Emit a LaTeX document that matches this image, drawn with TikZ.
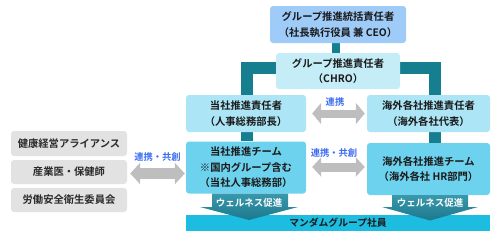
\documentclass[tikz,border=0pt]{standalone}
\usepackage{fontspec}
\setmainfont{Noto Sans CJK JP}[BoldFont={Noto Sans CJK JP Bold}]
\usetikzlibrary{arrows.meta}
\definecolor{topblue}{HTML}{9ECBF8}
\definecolor{chroc}{HTML}{C4EDF7}
\definecolor{respc}{HTML}{ACE5F5}
\definecolor{teamc}{HTML}{6DD2EE}
\definecolor{barc}{HTML}{1CBDE0}
\definecolor{tealc}{HTML}{157F8F}
\definecolor{grayb}{HTML}{E2E2E2}
\definecolor{graya}{HTML}{BEBEBE}
\definecolor{lblue}{HTML}{3B6CF2}
\definecolor{welltop}{HTML}{3A98AD}
\definecolor{wellbot}{HTML}{1B788D}
\definecolor{txt}{HTML}{1A1A1A}
\definecolor{gtxt}{HTML}{2B2B2B}
\pgfdeclarelayer{bg}
\pgfsetlayers{bg,main}
\tikzset{
  box/.style={rounded corners=3pt, inner sep=0pt, align=center, text=txt,
    font=\fontsize{10.3}{15.5}\selectfont\bfseries},
  graybox/.style={box, fill=grayb, text=gtxt, minimum width=116pt},
  tealline/.style={draw=tealc, line width=12pt},
  dblarrow/.style={draw=graya, line width=#1},
  lbl/.style={text=lblue, font=\fontsize{9.3}{10}\selectfont\bfseries, inner sep=0pt},
  welllbl/.style={text=white, font=\fontsize{9.5}{10}\selectfont\bfseries, inner sep=0pt},
  wellshape/.style={top color=welltop, bottom color=wellbot, draw=none},
}
\begin{document}
\begin{tikzpicture}[x=1pt,y=-1pt]
\useasboundingbox (0,0) rectangle (498,241);
% nodes
\node[box, fill=topblue, minimum width=136pt, minimum height=37pt] (top) at (338,24.5)
  {グループ推進統括責任者\\（社長執行役員 兼 CEO）};
\node[box, fill=chroc, minimum width=124pt, minimum height=36pt] (chro) at (338,71)
  {グループ推進責任者\\（CHRO）};
\node[box, fill=respc, minimum width=120pt, minimum height=37pt] (resp1) at (246,113.5)
  {当社推進責任者\\（人事総務部長）};
\node[box, fill=respc, minimum width=123pt, minimum height=37pt] (resp2) at (428.5,113.5)
  {海外各社推進責任者\\（海外各社代表）};
\node[box, fill=teamc, minimum width=120pt, minimum height=52pt] (team1) at (246,167.5)
  {当社推進チーム\\※国内グループ含む\\（当社人事総務部）};
\node[box, fill=teamc, minimum width=123pt, minimum height=52pt] (team2) at (428.5,169)
  {海外各社推進チーム\\（海外各社 HR部門）};
\node[box, fill=barc, rounded corners=0pt, minimum width=304pt, minimum height=16pt,
  font=\fontsize{9.8}{10}\selectfont\bfseries] (bar) at (338,223)
  {マンダムグループ社員};
\node[graybox, minimum height=25pt] (g1) at (69,143.5) {健康経営アライアンス};
\node[graybox, minimum height=24pt] (g2) at (69,172) {産業医・保健師};
\node[graybox, minimum height=24pt] (g3) at (69,200) {労働安全衛生委員会};
% teal connectors
\coordinate (bl) at (246.5,68);
\coordinate (br) at (434.5,68);
\begin{pgfonlayer}{bg}
\draw[draw=tealc, line width=8pt] (top.south) ++(-2,0) -- ([xshift=-2pt]chro.north);
\draw[tealline] ([xshift=0.5pt]resp1.north) -- (bl) -- (br) -- (br |- resp2.north);
\draw[tealline] ([xshift=0.5pt]resp1.south) -- ([xshift=0.5pt]team1.north);
\draw[tealline] (br |- resp2.south) -- (br |- team2.north);
\end{pgfonlayer}
% wellness arrows
\path[wellshape] ([xshift=3pt]team1.south) ++(-37,0) -- ++(76,0) |- (298,207) -- (249,220) -- (200,207) -| cycle;
\path[wellshape] (392,195) -- (468,195) -- (468,207) -- (478,207) -- (430,220.5) -- (382,207) -- (392,207) -- cycle;
\node[welllbl] (w1) at (249,202.5) {ウェルネス促進};
\node[welllbl] (w2) at (430,202.5) {ウェルネス促進};
% gray double arrows
\draw[dblarrow=8pt, {Triangle[length=9pt,width=21pt]}-{Triangle[length=9pt,width=21pt]}]
  ([xshift=6pt]resp1.east) -- ([xshift=-2pt]resp2.west);
\draw[dblarrow=9pt, {Triangle[length=9pt,width=19pt]}-{Triangle[length=9pt,width=19pt]}]
  ([xshift=6pt]resp1.east |- 0,167) -- ([xshift=-2pt]resp2.west |- 0,167);
\draw[dblarrow=11pt, {Triangle[length=10pt,width=21pt]}-{Triangle[length=10pt,width=21pt]}]
  ([xshift=3pt]g2.east |- 0,173.5) -- ([xshift=-1pt]team1.west |- 0,173.5);
\node[lbl] (l1) at (335,102) {連携};
\node[lbl] (l2) at (334,152.5) {連携・共創};
\node[lbl] (l3) at (157.5,157) {連携・共創};
\end{tikzpicture}
\end{document}
